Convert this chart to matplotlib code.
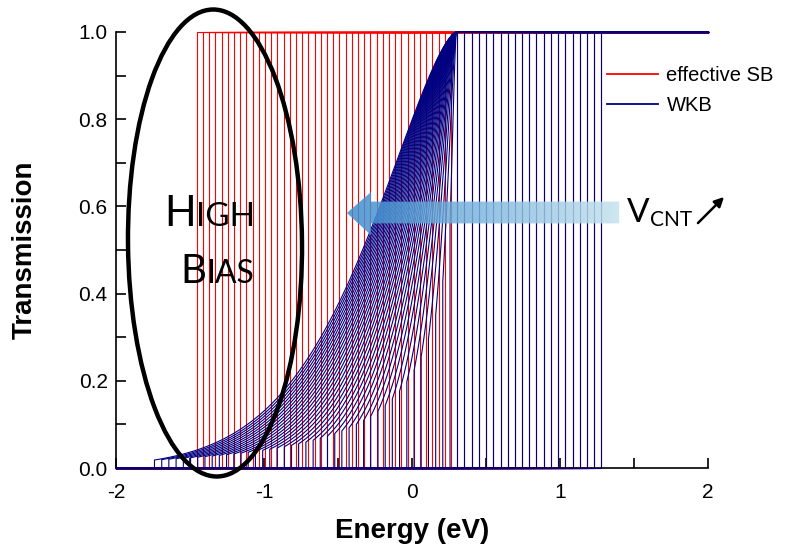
#!/usr/bin/env python3
"""
Transmission vs energy: effective Schottky-barrier steps and WKB curves
"""

import numpy as np
import matplotlib
matplotlib.use("Agg")
import matplotlib.pyplot as plt
from matplotlib.patches import Ellipse, Polygon, FancyArrowPatch
from matplotlib.colors import LinearSegmentedColormap
from matplotlib.ticker import MultipleLocator, FormatStrFormatter

plt.rcParams['font.family'] = ['Liberation Sans', 'DejaVu Sans']

# band-edge energies (eV) where each WKB curve switches on
wkb_onsets = [-1.740, -1.691, -1.643, -1.594, -1.545, -1.496, -1.448, -1.399,
              -1.350, -1.302, -1.253, -1.204, -1.155, -1.107, -1.058, -1.009,
              -0.961, -0.912, -0.863, -0.814, -0.766, -0.717, -0.668, -0.620,
              -0.571, -0.522, -0.474, -0.425, -0.376, -0.327, -0.279, -0.230,
              -0.181, -0.133, -0.084, -0.035, 0.014, 0.062, 0.111, 0.160,
              0.208, 0.257, 0.306, 0.354, 0.403, 0.452, 0.500, 0.549,
              0.598, 0.647, 0.695, 0.744, 0.793, 0.841, 0.890, 0.939,
              0.987, 1.036, 1.085, 1.134, 1.182, 1.231, 1.280]

# step positions (eV) of the effective SB model
sb_steps = [-1.454, -1.412, -1.370, -1.328, -1.286, -1.245, -1.203, -1.161,
            -1.119, -1.077, -1.035, -0.993, -0.951, -0.909, -0.868, -0.826,
            -0.784, -0.742, -0.700, -0.658, -0.616, -0.574, -0.532, -0.491,
            -0.449, -0.407, -0.365, -0.323, -0.281, -0.239, -0.197, -0.155,
            -0.113, -0.072, -0.030, 0.012, 0.054, 0.096, 0.138, 0.180,
            0.222, 0.263, 0.306, 0.354, 0.403, 0.452, 0.500, 0.549,
            0.598, 0.647, 0.695, 0.744, 0.793, 0.841, 0.890, 0.939,
            0.987, 1.036, 1.085, 1.134, 1.182, 1.231, 1.280]

barrier_top = 0.3      # eV, all WKB curves reach T=1 here
tunnel_const = 2.8     # WKB exponent prefactor

W, H = 792, 551
RED = "#ff0000"
NAVY = "#000080"


def wkb_curve(e_on):
    """Transmission curve for one band-edge position"""
    if e_on >= barrier_top:
        return [-2, e_on, e_on, 2], [0, 0, 1, 1]
    e = np.linspace(e_on, barrier_top, 120)
    t = np.exp(-tunnel_const * (barrier_top - e) ** 1.5 / (barrier_top - e_on))
    x = np.concatenate([[-2, e_on], e, [2]])
    y = np.concatenate([[0, 0], t, [1]])
    return x, y


def fx(px):
    return px / W


def fy(py):
    return 1 - py / H


fig = plt.figure(figsize=(W / 100, H / 100), dpi=100)
ax = fig.add_axes([fx(116), fy(468), (708 - 116) / W, (468 - 32) / H])

for i, s in enumerate(sb_steps):
    ax.plot([-2, s, s, 2], [0, 0, 1, 1], color=RED, lw=0.8, clip_on=False,
            label="effective SB" if i == 0 else None, zorder=2)
for i, e_on in enumerate(wkb_onsets):
    x, y = wkb_curve(e_on)
    ax.plot(x, y, color=NAVY, lw=0.8, clip_on=False,
            label="WKB" if i == 0 else None, zorder=3)

ax.set_xlim(-2, 2)
ax.set_ylim(0, 1)
ax.xaxis.set_major_locator(MultipleLocator(1))
ax.xaxis.set_minor_locator(MultipleLocator(0.5))
ax.yaxis.set_major_locator(MultipleLocator(0.2))
ax.yaxis.set_minor_locator(MultipleLocator(0.1))
ax.xaxis.set_major_formatter(FormatStrFormatter('%g'))
ax.yaxis.set_major_formatter(FormatStrFormatter('%.1f'))
ax.tick_params(which='both', direction='in', length=7, width=1.2,
               labelsize=15, color='black')
ax.tick_params(axis='y', pad=6)
ax.tick_params(axis='x', pad=11)
for side in ['top', 'right']:
    ax.spines[side].set_visible(False)
for side in ['left', 'bottom']:
    ax.spines[side].set_linewidth(1.2)

ax.set_xlabel("Energy (eV)", fontsize=20, fontweight='bold')
ax.set_ylabel("Transmission", fontsize=20, fontweight='bold')
ax.xaxis.set_label_coords(0.5, -0.115)
ax.yaxis.set_label_coords(-0.133, 0.5)

leg = ax.legend(loc='upper left', bbox_to_anchor=(fx(607), fy(66)),
                bbox_transform=fig.transFigure, frameon=False, fontsize=14.5,
                handlelength=2.55, handletextpad=0.4, labelspacing=0.55,
                borderpad=0, borderaxespad=0)
for line in leg.get_lines():
    line.set_linewidth(1.3)

# gradient arrow pointing left
arrow = Polygon([(1.40, 0.561), (-0.277, 0.561), (-0.277, 0.534), (-0.44, 0.585),
                 (-0.277, 0.633), (-0.277, 0.611), (1.40, 0.611)],
                closed=True, facecolor='none', edgecolor='none',
                transform=ax.transData)
ax.add_patch(arrow)
cmap = LinearSegmentedColormap.from_list("arr", ["#3a8dcf", "#c6e3ee"])
grad = np.linspace(0, 1, 256).reshape(1, -1)
im = ax.imshow(grad, cmap=cmap, extent=[-0.44, 1.40, 0.534, 0.633],
               aspect='auto', alpha=0.85, zorder=5, interpolation='bilinear')
im.set_clip_path(arrow)

# ellipse marking the high-bias region
ell = Ellipse((2.15, (H - 243) / 100), 1.74, 4.67, angle=0.5,
              transform=fig.dpi_scale_trans, fill=False, lw=3.2,
              edgecolor='black', zorder=6)
fig.add_artist(ell)


# small caps text
def small_caps(px, py, first, rest, big, small):
    t1 = fig.text(fx(px), fy(py), first, fontsize=big, family='Lato',
                  va='baseline', ha='left')
    fig.canvas.draw()
    bb = t1.get_window_extent()
    fig.text(bb.x1 / W, fy(py), rest, fontsize=small, family='Lato',
             va='baseline', ha='left')


small_caps(164, 226, "H", "IGH", 30, 24)
small_caps(180, 283, "B", "IAS", 29, 23)

# V_CNT label with arrow
t = fig.text(fx(627), fy(222), "V", fontsize=24, family='Lato',
             va='baseline', ha='left')
fig.canvas.draw()
bb = t.get_window_extent()
fig.text(bb.x1 / W + 0.001, fy(226), "CNT", fontsize=15, family='Lato',
         va='baseline', ha='left')
fig.add_artist(FancyArrowPatch((fx(696), fy(225)), (fx(726), fy(195)),
                               transform=fig.transFigure, arrowstyle='-|>',
                               mutation_scale=14, lw=1.8, color='black'))

plt.savefig("out.png", dpi=100)
plt.close()
print("Saved: out.png")
